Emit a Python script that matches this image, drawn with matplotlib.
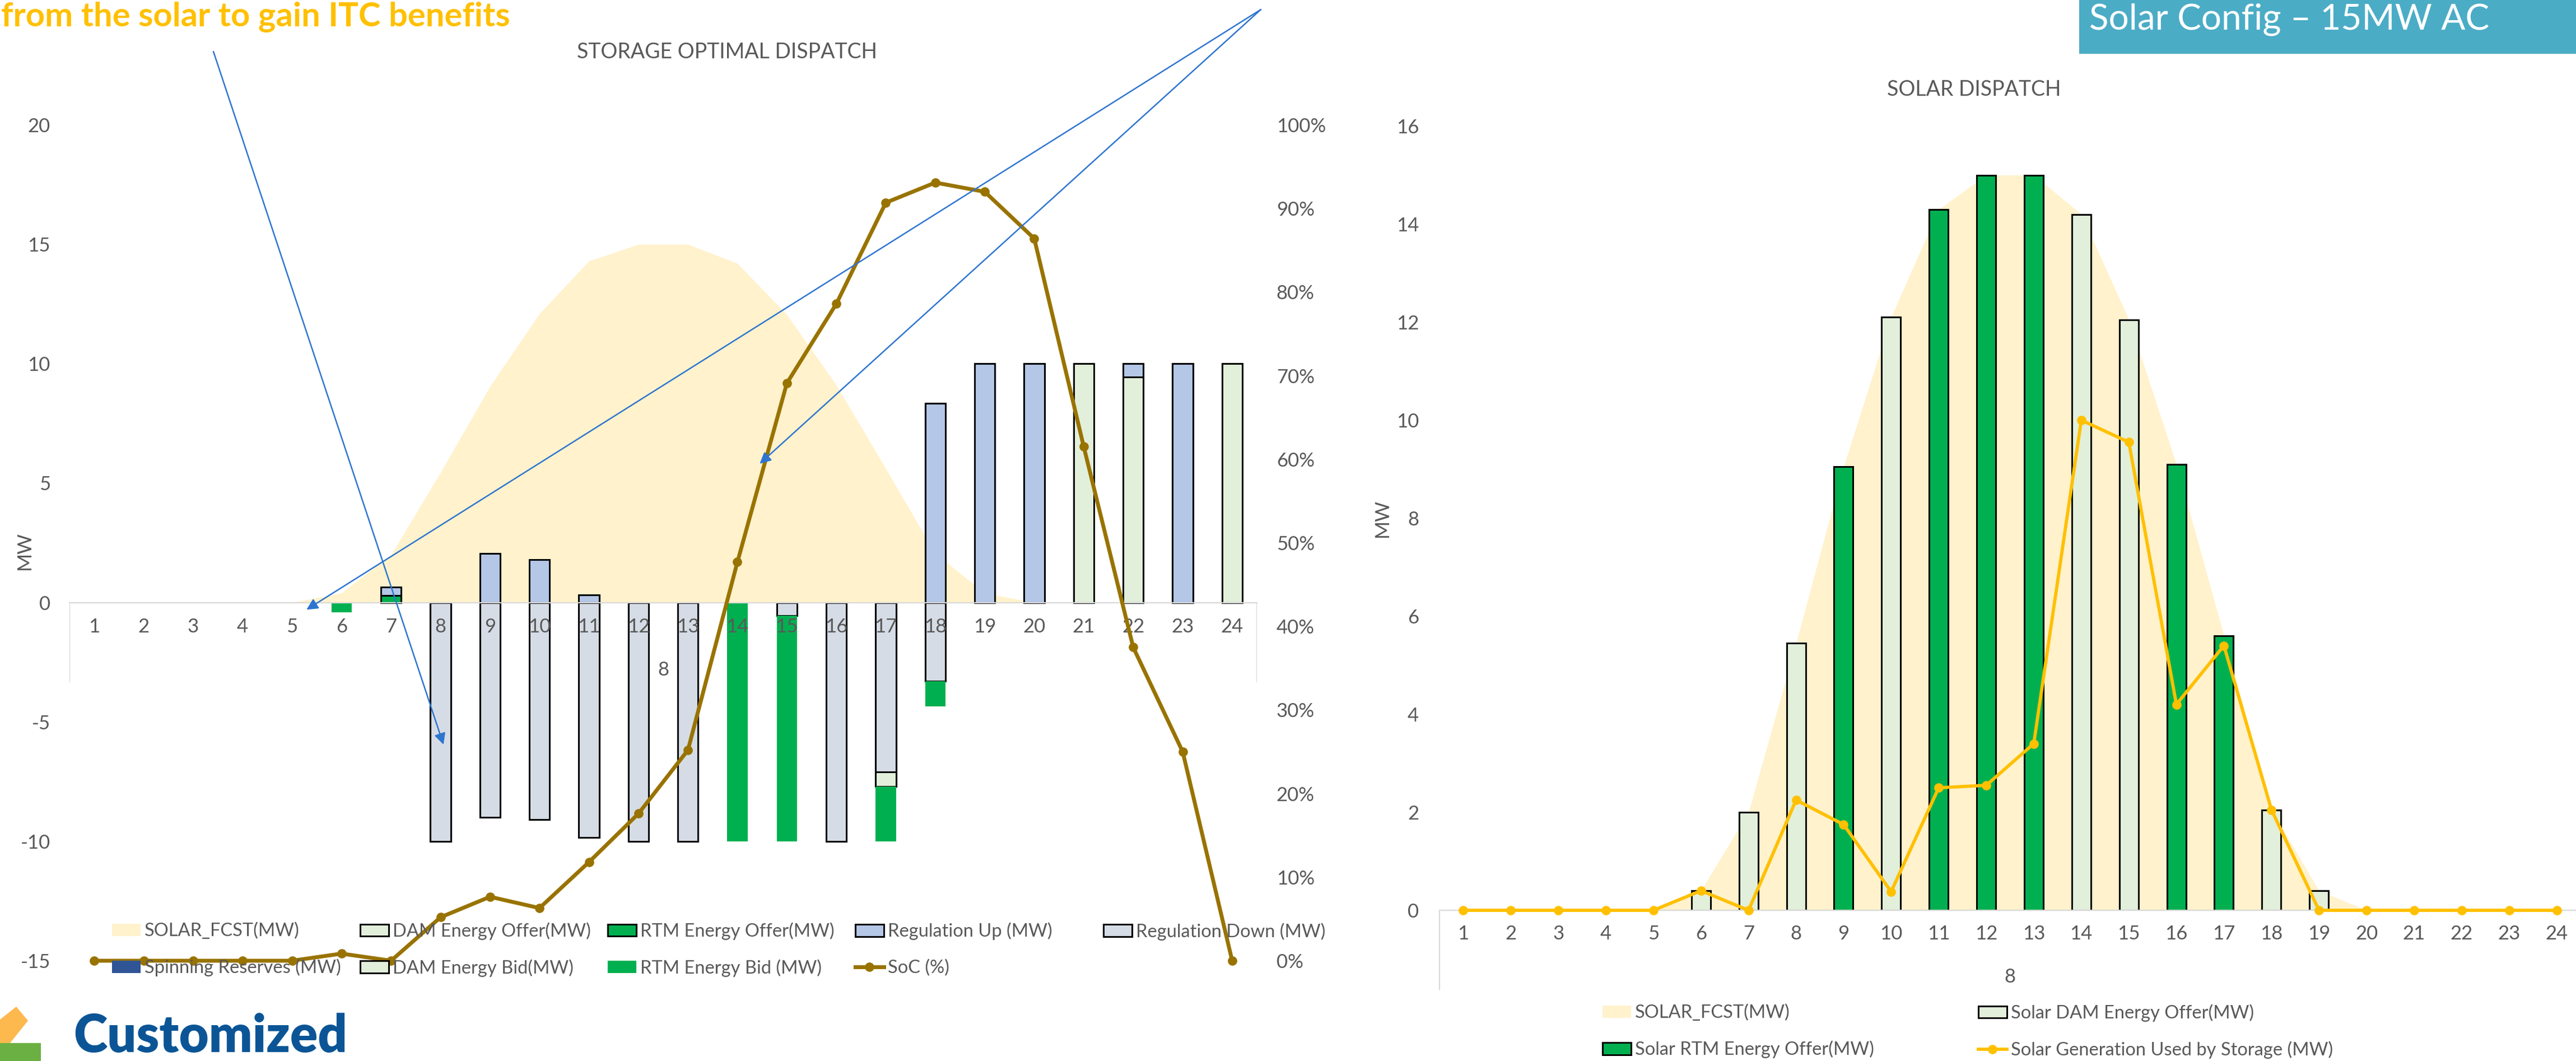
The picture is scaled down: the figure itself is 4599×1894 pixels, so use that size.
import numpy as np
import matplotlib.pyplot as plt
from matplotlib.patches import Patch, Rectangle, Polygon
from matplotlib.lines import Line2D

plt.rcParams['font.family'] = ['Lato', 'DejaVu Sans']
plt.rcParams['axes.unicode_minus'] = False

hours = list(range(1, 25))

# solar forecast, MW
solar_fcst = [0, 0, 0, 0, 0, 0.4, 2.0, 5.45, 9.05, 12.1, 14.3, 15.0,
              15.0, 14.2, 12.05, 9.1, 5.6, 2.05, 0.4, 0, 0, 0, 0, 0]

# storage dispatch, MW (bids and reg down are negative)
dam_offer = [0, 0, 0, 0, 0, 0, 0, 0, 0, 0, 0, 0,
             0, 0, 0, 0, 0, 0, 0, 0, 10, 9.45, 0, 10]
rtm_offer = [0, 0, 0, 0, 0, 0, 0.3, 0, 0, 0, 0, 0,
             0, 0, 0, 0, 0, 0, 0, 0, 0, 0, 0, 0]
reg_up = [0, 0, 0, 0, 0, 0, 0.35, 0, 2.05, 1.8, 0.33, 0,
          0, 0, 0, 0, 0, 8.35, 10, 10, 0, 0.55, 10, 0]
reg_down = [0, 0, 0, 0, 0, 0, 0, -10, -9.0, -9.1, -9.85, -10,
            -10, 0, -0.55, -10, -7.1, -3.3, 0, 0, 0, 0, 0, 0]
spin_res = [0] * 24
dam_bid = [0, 0, 0, 0, 0, 0, 0, 0, 0, 0, 0, 0,
           0, 0, 0, 0, -0.6, 0, 0, 0, 0, 0, 0, 0]
rtm_bid = [0, 0, 0, 0, 0, -0.4, 0, 0, 0, 0, 0, 0,
           0, -10, -9.45, 0, -2.3, -1.05, 0, 0, 0, 0, 0, 0]
soc_pct = [0, 0, 0, 0, 0, 0.85, 0, 5.2, 7.65, 6.3, 11.8, 17.6,
           25.2, 47.7, 69.1, 78.6, 90.7, 93.1, 92.0, 86.4, 61.5, 37.5, 25.0, 0]

# solar dispatch, MW
solar_dam = [0, 0, 0, 0, 0, 0.4, 2.0, 5.45, 0, 12.1, 0, 0,
             0, 14.2, 12.05, 0, 0, 2.05, 0.4, 0, 0, 0, 0, 0]
solar_rtm = [0, 0, 0, 0, 0, 0, 0, 0, 9.05, 0, 14.3, 15.0,
             15.0, 0, 0, 9.1, 5.6, 0, 0, 0, 0, 0, 0, 0]
solar_to_storage = [0, 0, 0, 0, 0, 0.4, 0, 2.25, 1.75, 0.38, 2.5, 2.55,
                    3.4, 10.0, 9.55, 4.2, 5.4, 2.05, 0, 0, 0, 0, 0, 0]

left_yticks = [-15, -10, -5, 0, 5, 10, 15, 20]
soc_ticks = [i / 10 for i in range(11)]
right_yticks = [0, 2, 4, 6, 8, 10, 12, 14, 16]

C_SOLAR = '#FFF2CC'
C_DAM = '#E2EFDA'
C_RTM = '#00B050'
C_REGUP = '#B4C7E7'
C_REGDN = '#D6DCE5'
C_SPIN = '#2F5597'
C_SOC = '#997300'
C_GEN = '#FFC000'
GREY = '#595959'
AXLINE = '#D9D9D9'

W, H = 4599, 1894


def fx(x):
    return x / W


def fy(y):
    return 1 - y / H


def draw_bars(ax, vals, bottom, color, edge, width):
    v = np.asarray(vals, float)
    b = np.asarray(bottom, float)
    idx = np.nonzero(v)[0]
    x = np.asarray(hours)[idx]
    lw = 2.2 if edge else 0
    ax.bar(x, v[idx], width, bottom=b[idx], color=color,
           edgecolor=edge if edge else 'none', linewidth=lw, zorder=1.2)


def style_cat_axis(ax):
    for s in ['top', 'right', 'left']:
        ax.spines[s].set_visible(False)
    ax.spines['bottom'].set_position(('data', 0))
    ax.spines['bottom'].set_color(AXLINE)
    ax.spines['bottom'].set_linewidth(1.6)
    ax.set_xlim(0.5, 24.5)
    ax.set_xticks(hours, labels=[str(h) for h in hours])


def patch(fc, edge=True):
    return Patch(facecolor=fc, edgecolor='black' if edge else 'none',
                 linewidth=2.2 if edge else 0)


def column_legends(ax, cols, yc):
    # one small legend per column so every column starts at a fixed x
    for i, (x, items) in enumerate(cols):
        leg = ax.legend([h for h, _ in items], [t for _, t in items],
                        loc='center left', bbox_to_anchor=(fx(x), fy(yc)),
                        bbox_transform=fig.transFigure,
                        frameon=False, fontsize=23.5, labelcolor=GREY,
                        handlelength=1.55, handleheight=0.65, handletextpad=0.22,
                        borderpad=0, borderaxespad=0, labelspacing=1.05)
        if i < len(cols) - 1:
            ax.add_artist(leg)


fig = plt.figure(figsize=(W / 100, H / 100), dpi=100)

# ---------------- storage optimal dispatch ----------------
ax1 = fig.add_axes([fx(124), fy(1715), fx(2244) - fx(124), fy(223) - fy(1715)])
style_cat_axis(ax1)
ax1.set_ylim(-15, 20)
ax1.set_yticks(left_yticks, labels=[str(t) for t in left_yticks])
ax1.tick_params(axis='x', length=0, pad=20, labelsize=25, labelcolor=GREY)
ax1.tick_params(axis='y', length=0, pad=24.5, labelsize=25, labelcolor=GREY)

ax1.fill_between(hours, solar_fcst, color=C_SOLAR, lw=0, zorder=1)

bw = 0.41
pos1 = np.asarray(dam_offer, float)
pos2 = pos1 + np.asarray(rtm_offer, float)
draw_bars(ax1, dam_offer, np.zeros(24), C_DAM, 'black', bw)
draw_bars(ax1, rtm_offer, pos1, C_RTM, 'black', bw)
draw_bars(ax1, reg_up, pos2, C_REGUP, 'black', bw)

neg1 = np.asarray(reg_down, float)
neg2 = neg1 + np.asarray(spin_res, float)
neg3 = neg2 + np.asarray(dam_bid, float)
draw_bars(ax1, reg_down, np.zeros(24), C_REGDN, 'black', bw)
draw_bars(ax1, spin_res, neg1, C_SPIN, None, bw)
draw_bars(ax1, dam_bid, neg2, C_DAM, 'black', bw)
draw_bars(ax1, rtm_bid, neg3, C_RTM, None, bw)

ax1.vlines([0.5, 24.5], -3.34, 0, color=AXLINE, lw=1.6)
ax1.text(12.5, -2.82, '8', ha='center', va='center', fontsize=25, color=GREY)

ax1.set_ylabel('MW', fontsize=25, color=GREY, va='center')
ax1.yaxis.set_label_coords(-0.0376, 0.4907)
ax1.text(0.5539, 1.0874, 'STORAGE OPTIMAL DISPATCH', transform=ax1.transAxes,
         ha='center', va='center', fontsize=27, color=GREY)

ax2 = ax1.twinx()
for s in ax2.spines.values():
    s.set_visible(False)
ax2.set_ylim(0, 1)
ax2.set_yticks(soc_ticks, labels=[f'{int(round(t * 100))}%' for t in soc_ticks])
ax2.tick_params(axis='y', length=0, pad=25, labelsize=25, labelcolor=GREY)
ax2.plot(hours, np.asarray(soc_pct) / 100, color=C_SOC, lw=5, marker='o',
         ms=11, clip_on=False, zorder=3)

# callout arrows
arrow_kw = dict(arrowstyle='-|>', color='#2E75D0', lw=1.8, mutation_scale=30,
                shrinkA=0, shrinkB=0)
ax2.annotate('', xy=(8.06, -5.95), xycoords=ax1.transData,
             xytext=(381, H - 92), textcoords='figure pixels', arrowprops=arrow_kw)
ax2.annotate('', xy=(5.29, -0.3), xycoords=ax1.transData,
             xytext=(2251, H - 17), textcoords='figure pixels', arrowprops=arrow_kw)
ax2.annotate('', xy=(14.45, 5.81), xycoords=ax1.transData,
             xytext=(2251, H - 17), textcoords='figure pixels', arrowprops=arrow_kw)

blank = (Patch(visible=False), ' ')
left_cols = [
    (200, [(patch(C_SOLAR, False), 'SOLAR_FCST(MW)'),
           (patch(C_SPIN, False), 'Spinning Reserves (MW)')]),
    (643, [(patch(C_DAM), 'DAM Energy Offer(MW)'),
           (patch(C_DAM), 'DAM Energy Bid(MW)')]),
    (1085, [(patch(C_RTM), 'RTM Energy Offer(MW)'),
            (patch(C_RTM, False), 'RTM Energy Bid (MW)')]),
    (1527, [(patch(C_REGUP), 'Regulation Up (MW)'),
            (Line2D([], [], color=C_SOC, lw=5, marker='o', ms=11), 'SoC (%)')]),
    (1970, [(patch(C_REGDN), 'Regulation Down (MW)'), blank]),
]
column_legends(ax2, left_cols, 1695)

# ---------------- solar dispatch ----------------
ax3 = fig.add_axes([fx(2570), fy(1625), (4607 - 2570) / W, (1625 - 225) / H])
style_cat_axis(ax3)
ax3.set_ylim(0, 16)
ax3.set_yticks(right_yticks, labels=[str(t) for t in right_yticks])
ax3.tick_params(axis='x', length=0, pad=19, labelsize=25, labelcolor=GREY)
ax3.tick_params(axis='y', length=0, pad=26.5, labelsize=25, labelcolor=GREY)

ax3.fill_between(hours, solar_fcst, color=C_SOLAR, lw=0, zorder=1)
draw_bars(ax3, solar_dam, np.zeros(24), C_DAM, 'black', 0.40)
draw_bars(ax3, solar_rtm, np.zeros(24), C_RTM, 'black', 0.40)
ax3.plot(hours, solar_to_storage, color=C_GEN, lw=4.2, marker='o', ms=11,
         clip_on=False, zorder=3)

ax3.vlines([0.5, 24.5], -1.62, 0, color=AXLINE, lw=1.6, clip_on=False)
ax3.text(12.5, -1.355, '8', ha='center', va='center', fontsize=25, color=GREY,
         clip_on=False)
ax3.set_ylabel('MW', fontsize=25, color=GREY, va='center')
ax3.yaxis.set_label_coords(-0.0499, 0.5003)
ax3.text(0.4684, 1.0466, 'SOLAR DISPATCH', transform=ax3.transAxes,
         ha='center', va='center', fontsize=27, color=GREY)

right_cols = [
    (2861, [(patch(C_SOLAR, False), 'SOLAR_FCST(MW)'),
            (patch(C_RTM), 'Solar RTM Energy Offer(MW)')]),
    (3532, [(patch(C_DAM), 'Solar DAM Energy Offer(MW)'),
            (Line2D([], [], color=C_GEN, lw=4.2, marker='o', ms=11),
             'Solar Generation Used by Storage (MW)')]),
]
column_legends(ax3, right_cols, 1841)

# ---------------- slide decorations ----------------
fig.text(fx(2), fy(47), 'from the solar to gain ITC benefits', fontsize=43,
         fontweight='bold', color='#FFC000', ha='left', va='baseline')

fig.add_artist(Rectangle((fx(3712), fy(96)), 1 - fx(3712), fy(0) - fy(96),
                         transform=fig.transFigure, color='#4BACC6', lw=0))
fig.text(fx(3730), fy(53), 'Solar Config \u2013 15MW AC', fontsize=46,
         color='white', ha='left', va='baseline')

fig.add_artist(Polygon([(fx(0), fy(1820)), (fx(29), fy(1797)), (fx(50), fy(1822)),
                        (fx(18), fy(1862)), (fx(0), fy(1862))],
                       transform=fig.transFigure, color='#FDB94E', lw=0))
fig.add_artist(Rectangle((fx(0), fy(1894)), fx(73), fy(1862) - fy(1894),
                         transform=fig.transFigure, color='#6AB042', lw=0))
fig.text(fx(131), fy(1878), 'Customized', fontsize=66, fontweight='heavy',
         color='#0B5596', ha='left', va='baseline')

fig.savefig('out.png', dpi=100)
